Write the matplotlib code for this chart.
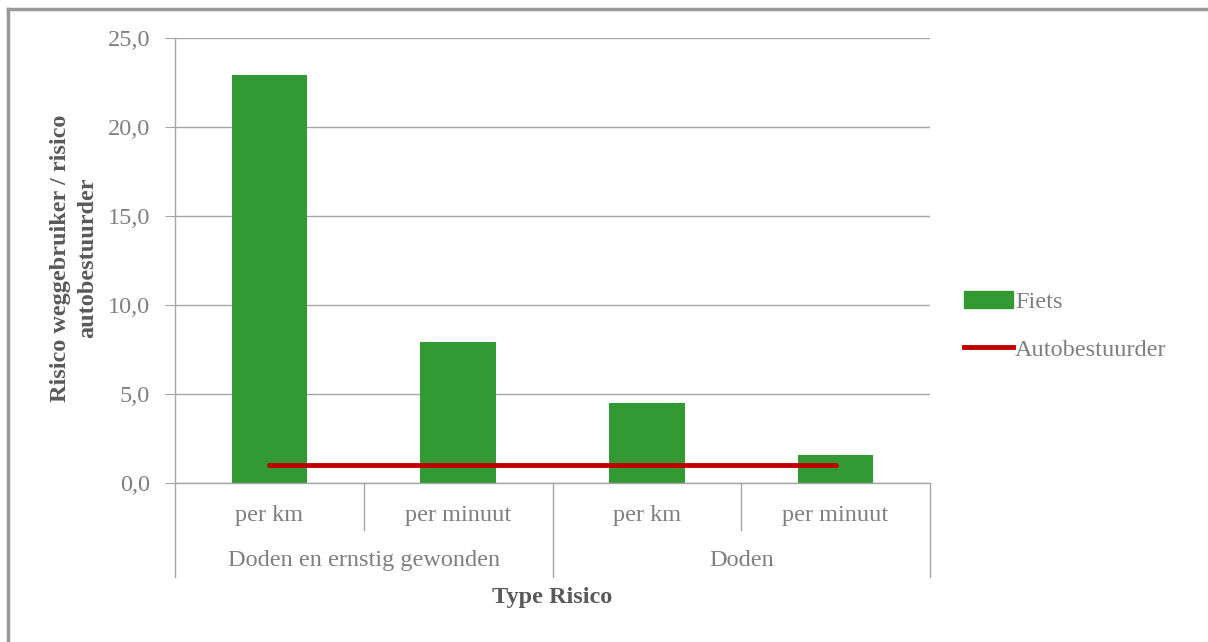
import matplotlib.pyplot as plt
from matplotlib.lines import Line2D
from matplotlib.patches import Patch

plt.rcParams['font.family'] = ['Liberation Serif', 'DejaVu Serif']

sub_labels = ["per km", "per minuut", "per km", "per minuut"]
group_labels = ["Doden en ernstig gewonden", "Doden"]
fiets = [22.9, 7.9, 4.5, 1.6]
auto = [1.0, 1.0, 1.0, 1.0]
yticks = [0, 5, 10, 15, 20, 25]

GREEN = "#339933"
RED = "#c00000"
GRID = "#a6a6a6"
TXT = "#7f7f7f"
FS = 17.5

fig = plt.figure(figsize=(12.08, 6.42), dpi=100)
W, H = 1208, 642
ax = fig.add_axes([175 / W, (H - 483) / H, 755 / W, 445 / H])

x = list(range(len(fiets)))
ax.bar(x, fiets, width=0.4, color=GREEN, zorder=2)
ax.plot(x, auto, color=RED, lw=3.5, solid_capstyle="round", zorder=3)

ax.set_xlim(-0.5, 3.5)
ax.set_ylim(0, 25)
ax.set_yticks(yticks)
ax.set_yticklabels([f"{v:.1f}".replace(".", ",") for v in yticks],
                   color=TXT, fontsize=FS)
ax.tick_params(axis="y", length=7, color=GRID, pad=11)
ax.set_xticks([])
ax.yaxis.grid(True, color=GRID, lw=1)
ax.set_axisbelow(True)
for s in ["top", "right"]:
    ax.spines[s].set_visible(False)
for s in ["left", "bottom"]:
    ax.spines[s].set_color(GRID)
    ax.spines[s].set_linewidth(1)

# two-level category axis
tr = ax.get_xaxis_transform()
for i, lab in enumerate(sub_labels):
    ax.text(i, -0.074, lab, transform=tr, ha="center", va="center",
            color=TXT, fontsize=FS)
for j, lab in enumerate(group_labels):
    ax.text(2 * j + 0.5, -0.175, lab, transform=tr, ha="center", va="center",
            color=TXT, fontsize=FS)
for xs in [-0.5, 0.5, 1.5, 2.5, 3.5]:
    low = -0.211 if xs in (-0.5, 1.5, 3.5) else -0.106
    ax.plot([xs, xs], [0, low], transform=tr, color=GRID, lw=1, clip_on=False)

fig.text(74 / W, 1 - 258 / H, "Risico weggebruiker / risico\nautobestuurder",
         rotation=90, ha="center", va="center", fontsize=FS,
         fontweight="bold", color="#595959", linespacing=1.35)
fig.text(552 / W, 1 - 598 / H, "Type Risico", ha="center", va="center",
         fontsize=FS, fontweight="bold", color="#595959")

handles = [Patch(color=GREEN), Line2D([], [], color=RED, lw=3.5)]
fig.legend(handles, ["Fiets", "Autobestuurder"], loc="center left",
           bbox_to_anchor=(952 / W, 1 - 326 / H), frameon=False,
           fontsize=FS, labelcolor=TXT, handlelength=2.0, handletextpad=0.1,
           labelspacing=1.05, borderpad=0)

# chart frame edges
fig.add_artist(Line2D([8 / W, 1], [1 - 9 / H, 1 - 9 / H], color="#999999", lw=2.5))
fig.add_artist(Line2D([8 / W, 8 / W], [0, 1 - 9 / H], color="#999999", lw=2.5))

fig.savefig("out.png", dpi=100, facecolor="white")
